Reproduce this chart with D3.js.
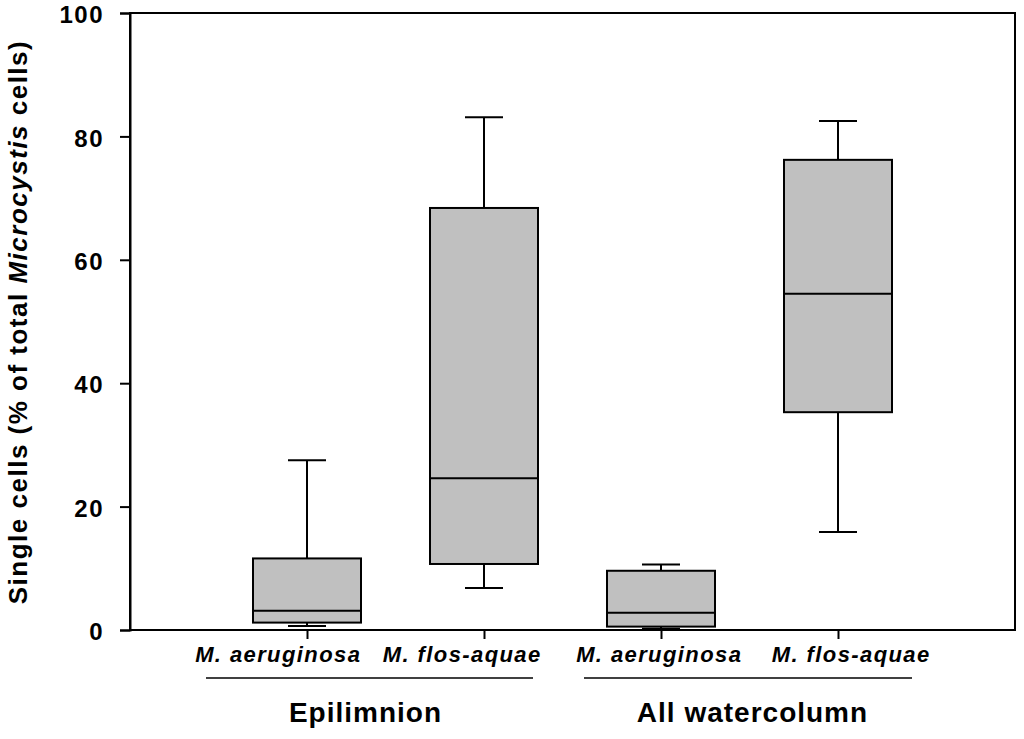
<!DOCTYPE html>
<html><head><meta charset="utf-8">
<script src="https://cdn.jsdelivr.net/npm/d3@7"></script>
<style>body{margin:0;background:#fff}svg{display:block}text{font-family:"Liberation Sans",Arial,sans-serif}</style>
</head><body><svg id="c" width="1024" height="739"></svg>
<script>
const categories = ["M. aeruginosa","M. flos-aquae","M. aeruginosa","M. flos-aquae"];
const groups = ["Epilimnion","All watercolumn"];
const whiskerLow  = [0.65, 6.8, 0.2, 15.9];
const q1          = [1.2, 10.7, 0.55, 35.3];
const median      = [3.1, 24.6, 2.8, 54.5];
const q3          = [11.6, 68.4, 9.6, 76.2];
const whiskerHigh = [27.5, 83.1, 10.6, 82.5];
const yTicks = [0,20,40,60,80,100];

// layout constants (pixel offsets of labels relative to ticks / group centres)
const labelShift = [-30,-23,-3,12];
const groupText = [{c:365},{c:752}];
const groupLine = [{a:206,b:533},{a:584,b:912}];

const svg = d3.select("#c");
const L=130,R=1015,T=13,B=630;
const x = d3.scaleLinear().domain([0,5]).range([L,R]);
const y = d3.scaleLinear().domain([0,100]).range([B,T]);
const FF = "'Liberation Sans',Arial,sans-serif";

// frame
svg.append("rect").attr("x",L).attr("y",T).attr("width",R-L).attr("height",B-T)
  .attr("fill","none").attr("stroke","#000").attr("stroke-width",2);

// y axis
const ya = svg.append("g").attr("transform",`translate(${L},0)`)
  .call(d3.axisLeft(y).tickValues(yTicks).tickSize(10).tickPadding(16));
ya.select(".domain").attr("stroke-width",2);
ya.selectAll(".tick line").attr("stroke-width",2);
ya.selectAll("text").attr("font-size",24).attr("font-weight","bold").attr("fill","#000")
  .attr("font-family",FF).attr("letter-spacing",1.5).attr("dy","0.4em");

// x axis
const xa = svg.append("g").attr("transform",`translate(0,${B})`)
  .call(d3.axisBottom(x).tickValues([1,2,3,4]).tickSize(9).tickPadding(8)
    .tickFormat((d,i)=>categories[i]));
xa.select(".domain").remove();
xa.selectAll(".tick line").attr("stroke-width",2);
xa.selectAll("text").attr("font-size",22).attr("font-weight","bold").attr("font-style","italic")
  .attr("fill","#000").attr("font-family",FF).attr("letter-spacing",1.4)
  .attr("y",32).attr("dy",0).attr("x",(d,i)=>labelShift[i]+0.7);

// boxes
const bw = 54, cw = 19;
categories.forEach((c,i)=>{
  const cx = x(i+1);
  const g = svg.append("g").attr("stroke","#000").attr("stroke-width",2);
  g.append("line").attr("x1",cx).attr("x2",cx).attr("y1",y(q3[i])).attr("y2",y(whiskerHigh[i]));
  g.append("line").attr("x1",cx).attr("x2",cx).attr("y1",y(q1[i])).attr("y2",y(whiskerLow[i]));
  g.append("line").attr("x1",cx-cw).attr("x2",cx+cw).attr("y1",y(whiskerHigh[i])).attr("y2",y(whiskerHigh[i]));
  g.append("line").attr("x1",cx-cw).attr("x2",cx+cw).attr("y1",y(whiskerLow[i])).attr("y2",y(whiskerLow[i]));
  g.append("rect").attr("x",cx-bw).attr("width",2*bw).attr("y",y(q3[i])).attr("height",y(q1[i])-y(q3[i]))
    .attr("fill","#c0c0c0");
  g.append("line").attr("x1",cx-bw).attr("x2",cx+bw).attr("y1",y(median[i])).attr("y2",y(median[i]));
});

// group lines and labels
groups.forEach((gname,k)=>{
  svg.append("line").attr("x1",groupLine[k].a).attr("x2",groupLine[k].b).attr("y1",678).attr("y2",678)
    .attr("stroke","#000").attr("stroke-width",1.5);
  svg.append("text").attr("x",groupText[k].c+0.5).attr("y",722).attr("text-anchor","middle")
    .attr("font-size",28).attr("font-weight","bold").attr("letter-spacing",1).text(gname);
});

// y label
const yl = svg.append("text").attr("transform",`translate(27,322) rotate(-90)`)
  .attr("text-anchor","middle").attr("font-size",26).attr("font-weight","bold").attr("letter-spacing",1.5);
yl.append("tspan").text("Single cells (% of total ");
yl.append("tspan").attr("font-style","italic").text("Microcystis");
yl.append("tspan").text(" cells)");
</script></body></html>
